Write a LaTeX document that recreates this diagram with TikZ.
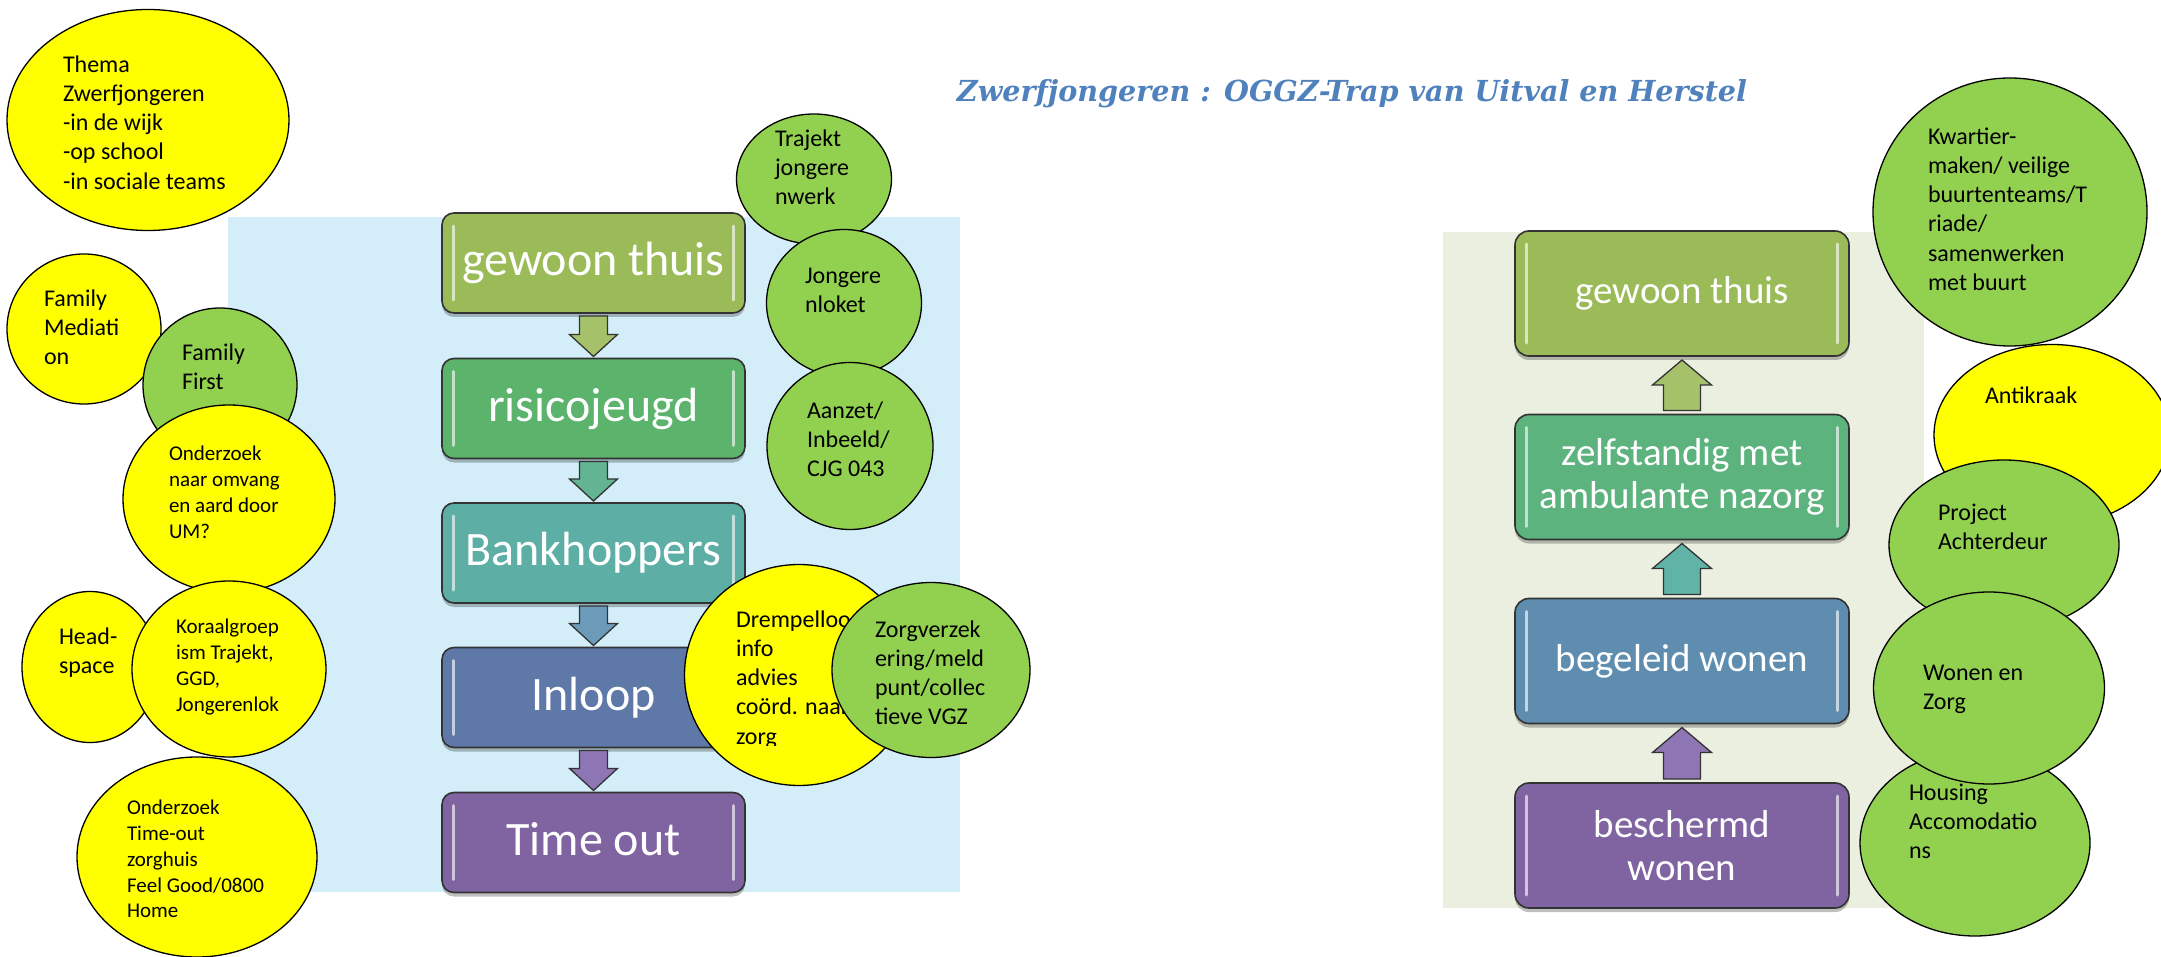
\documentclass[tikz,border=0pt]{standalone}
\usepackage{graphicx}
\usepackage{fontspec}
\setmainfont{Carlito}
\newfontfamily\titlefont{DejaVu Serif}
\usetikzlibrary{shapes.geometric,calc,shadows}

\definecolor{ylw}{HTML}{FFFF00}
\definecolor{grn}{HTML}{92D050}
\definecolor{bgblue}{HTML}{D3EEF9}
\definecolor{bgbeige}{HTML}{EBEFDF}
\definecolor{titleblue}{HTML}{4F81BD}
\definecolor{cOlive}{HTML}{9BBB59}
\definecolor{cGreen}{HTML}{5CB36C}
\definecolor{cTeal}{HTML}{5DAFA6}
\definecolor{cBlue}{HTML}{5E79A8}
\definecolor{cPurple}{HTML}{8064A2}
\definecolor{cSea}{HTML}{5CB37D}
\definecolor{cSteel}{HTML}{5F8DAF}
\definecolor{aOlive}{HTML}{A5C26A}
\definecolor{aGreen}{HTML}{62B492}
\definecolor{aSteel}{HTML}{6C9BBA}
\definecolor{aPurple}{HTML}{8E76B4}
\definecolor{aTeal}{HTML}{5FB3A7}

\newcommand{\dnarrow}[3]{%
  \path[arrowshape, fill=#3] let \p1=(#1.south), \p2=(#2.north) in
    (\x1-14pt,\y1-3pt) -- (\x1+14pt,\y1-3pt) -- (\x1+14pt,\y2+24pt) --
    (\x1+24pt,\y2+24pt) -- (\x1,\y2+2pt) -- (\x1-24pt,\y2+24pt) --
    (\x1-14pt,\y2+24pt) -- cycle;}
\newcommand{\uparrowshape}[3]{%
  \path[arrowshape, fill=#3] let \p1=(#1.north), \p2=(#2.south) in
    (\x1-18.5pt,\y1+4pt) -- (\x1+18.5pt,\y1+4pt) -- (\x1+18.5pt,\y2-29pt) --
    (\x1+29.5pt,\y2-29pt) -- (\x1,\y2-4pt) -- (\x1-29.5pt,\y2-29pt) --
    (\x1-18.5pt,\y2-29pt) -- cycle;}
\newcommand{\glossbars}[2]{%
  \draw[glossbar, draw=#2!30!white] ($(#1.north west)+(11,13)$) -- ($(#1.south west)+(11,-13)$);
  \draw[glossbar, draw=#2!30!white] ($(#1.north east)+(-12,13)$) -- ($(#1.south east)+(-12,-13)$);}

\begin{document}
\begin{tikzpicture}[x=1pt,y=-1pt,
  bubble/.style={ellipse, draw=black, line width=1.3pt, inner sep=0pt, outer sep=0pt},
  yb/.style={bubble, fill=ylw},
  gb/.style={bubble, fill=grn},
  sz/.style 2 args={minimum width=#1pt, minimum height=#2pt},
  btxt/.style={anchor=north west, inner sep=0pt, outer sep=0pt, align=left, font=\fontsize{24}{29.3}\selectfont},
  stxt/.style={btxt, font=\fontsize{21}{25.7}\selectfont},
  stepbox/.style={rectangle, draw=black!80, line width=1.6pt, text=white, inner sep=0pt, outer sep=0pt,
     drop shadow={shadow xshift=0pt, shadow yshift=-4pt, opacity=0.25, fill=black}},
  lbox/.style={stepbox, rounded corners=12pt, minimum width=303pt, minimum height=100pt, font=\fontsize{48}{52}\selectfont},
  rbox/.style={stepbox, rounded corners=14pt, minimum width=334pt, minimum height=125pt, align=center, font=\fontsize{39}{43}\selectfont},
  glossbar/.style={line width=3pt, line cap=round, opacity=0.9},
  arrowshape/.style={draw=black!80, line width=1.3pt, line join=miter}
]
\useasboundingbox (0,0) rectangle (2161,957);
\fill[white] (0,0) rectangle (2161,957);

% backgrounds
\fill[bgblue] (228,217) rectangle (960,892);
\fill[bgbeige] (1443,232) rectangle (1924,908);

% title
\node[anchor=base, inner sep=0pt, text=titleblue] (title) at (1352,102)
  {\resizebox{790pt}{22pt}{\titlefont\bfseries\itshape Zwerfjongeren : OGGZ-Trap van Uitval en Herstel}};

% left steps
\node[lbox, fill=cOlive]  (L1) at (593.5,263)   {\vphantom{gh}gewoon thuis};
\node[lbox, fill=cGreen]  (L2) at (593.5,408.5) {\vphantom{gh}risicojeugd};
\node[lbox, fill=cTeal]   (L3) at (593.5,553)   {\vphantom{gh}Bankhoppers};
\node[lbox, fill=cBlue]   (L4) at (593.5,697.5) {\vphantom{gh}Inloop};
\node[lbox, fill=cPurple] (L5) at (593.5,842.5) {\vphantom{gh}Time out};
\glossbars{L1}{cOlive}
\glossbars{L2}{cGreen}
\glossbars{L3}{cTeal}
\glossbars{L4}{cBlue}
\glossbars{L5}{cPurple}
\dnarrow{L1}{L2}{aOlive}
\dnarrow{L2}{L3}{aGreen}
\dnarrow{L3}{L4}{aSteel}
\dnarrow{L4}{L5}{aPurple}

% right steps
\node[rbox, fill=cOlive]  (R1) at (1682,293.5) {\vphantom{gh}gewoon thuis};
\node[rbox, fill=cSea]    (R2) at (1682,477)   {zelfstandig met\\ambulante nazorg};
\node[rbox, fill=cSteel]  (R3) at (1682,661)   {\vphantom{gh}begeleid wonen};
\node[rbox, fill=cPurple] (R4) at (1682,845.5) {beschermd\\wonen};
\glossbars{R1}{cOlive}
\glossbars{R2}{cSea}
\glossbars{R3}{cSteel}
\glossbars{R4}{cPurple}
\uparrowshape{R2}{R1}{aOlive}
\uparrowshape{R3}{R2}{aTeal}
\uparrowshape{R4}{R3}{aPurple}

% left bubbles
\node[yb, sz={282}{221}] (eThema) at (148,120) {};
\node[btxt] (tThema) at (63,51.5) {\strut Thema\\Zwerfjongeren\\-in de wijk\\-op school\\-in sociale teams};
\node[yb, sz={154}{150}] (eFamMed) at (84,329) {};
\node[btxt] (tFamMed) at (44,285.5) {\strut Family\\Mediati\\on};
\node[gb, sz={154}{154}] (eFamFirst) at (220,385) {};
\node[btxt] (tFamFirst) at (182,339.5) {\strut Family\\First};
\node[yb, sz={212}{188}] (eOndOmv) at (229,499) {};
\node[stxt] (tOndOmv) at (169,443) {\strut Onderzoek\\naar omvang\\en aard door\\UM?};
\node[yb, sz={136}{151}] (eHead) at (90,667) {};
\node[btxt] (tHead) at (59,623.5) {\strut Head-\\space};
\node[yb, sz={194}{176}] (eKoraal) at (229,669) {};
\node[stxt] (tKoraal) at (176,616) {\strut Koraalgroep\\ism Trajekt,\\GGD,\\Jongerenlok};
\node[yb, sz={240}{200}] (eTimeOut) at (197,857) {};
\node[stxt] (tTimeOut) at (127,797) {\strut Onderzoek\\Time-out\\zorghuis\\Feel Good/0800\\Home};

\node[gb, sz={155}{130}] (eTrajekt) at (814,179) {};
\node[btxt] (tTrajekt) at (775,125.5) {\strut Trajekt\\jongere\\nwerk};
\node[gb, sz={155}{147}] (eJong) at (844,303) {};
\node[btxt] (tJong) at (805,262.5) {\strut Jongere\\nloket};
\node[gb, sz={166}{167}] (eAanzet) at (850,446) {};
\node[btxt] (tAanzet) at (807,397.5) {\strut Aanzet/\\Inbeeld/\\CJG 043};

\node[yb, sz={229}{221}] (eDrempel) at (799,675) {};
\begin{scope}
  \clip (700,590) rectangle (960,745);
  \node[btxt] (tDrempel) at (736,606.5) {\strut Drempelloos\\info\\advies\\coörd. naar\\zorg};
\end{scope}
\node[gb, sz={198}{175}] (eZorgv) at (931,670) {};
\node[btxt] (tZorgv) at (875,616.5) {\strut Zorgverzek\\ering/meld\\punt/collec\\tieve VGZ};

% right bubbles
\node[gb, sz={274}{268}] (eKwart) at (2010,212) {};
\node[btxt] (tKwart) at (1928,123.5) {\strut Kwartier-\\maken/ veilige\\buurtenteams/T\\riade/\\samenwerken\\met buurt};
\node[yb, sz={236}{181}] (eAntik) at (2052,435) {};
\node[btxt] (tAntik) at (1985,382.5) {\strut Antikraak};
\node[gb, sz={230}{170}] (eProject) at (2004,545) {};
\node[btxt] (tProject) at (1938,499.5) {\strut Project\\Achterdeur};
\node[gb, sz={230}{186}] (eHousing) at (1975,843) {};
\node[btxt] (tHousing) at (1909,779.5) {\strut Housing\\Accomodatio\\ns};
\node[gb, sz={231}{192}] (eWonen) at (1989,688) {};
\node[btxt] (tWonen) at (1923,659.5) {\strut Wonen en\\Zorg};
\end{tikzpicture}
\end{document}
